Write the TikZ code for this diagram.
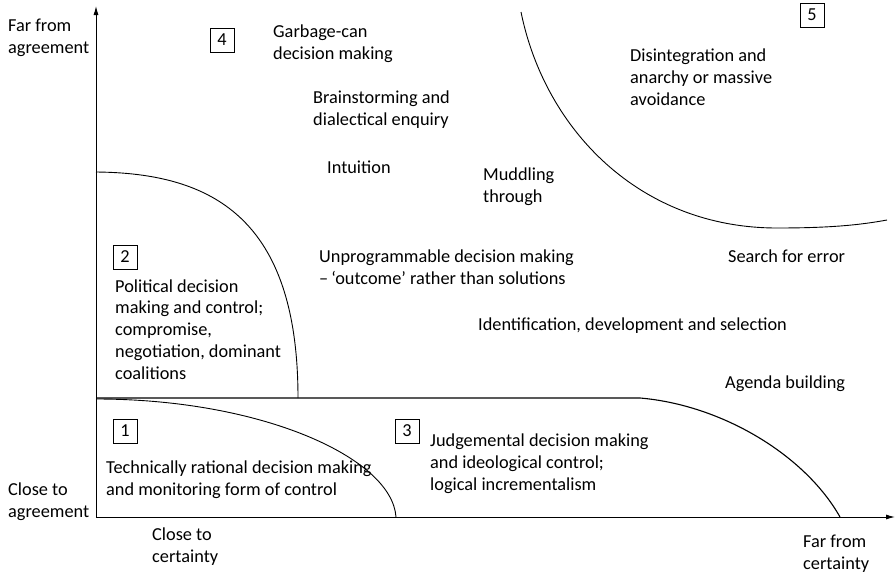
\documentclass[tikz,border=0pt]{standalone}
\usepackage{fontspec}
\setmainfont{Carlito}
\usetikzlibrary{arrows.meta}
\begin{document}
\begin{tikzpicture}[x=1pt,y=-1pt,
  % labels are placed by the baseline of their last line
  lbl/.style={anchor=base west, align=left, inner sep=0pt,
    font=\fontsize{18.3}{21.7}\selectfont},
  numbox/.style={draw, line width=0.6pt, minimum width=24pt, minimum height=24pt,
    inner sep=0pt, font=\fontsize{18.3}{20}\selectfont},
  axis/.style={line width=1pt, -{Latex[length=9pt,width=5pt]}},
  boundary/.style={line width=0.9pt}]
\useasboundingbox (0,0) rectangle (895,576);

% axes
\coordinate (O) at (96,517);
\coordinate (ytop) at (96,6);
\coordinate (xend) at (895,517);
\draw[axis] (O) -- (ytop);
\draw[axis] (O) -- (xend);

% region boundaries
\coordinate (b1s) at (96,399);
\coordinate (b1e) at (396,517);
\draw[boundary] (b1s) .. controls (262,399) and (392,458) .. (b1e);

\coordinate (b2s) at (96,172);
\coordinate (b2e) at (298,398);
\draw[boundary] (b2s) .. controls (212,173) and (298,218) .. (b2e);

\coordinate (b3s) at (96,398);
\coordinate (b3m) at (640,398);
\coordinate (b3e) at (840,517);
\draw[boundary, line width=1.1pt] (b3s) -- (b3m) .. controls (722,405) and (805,455) .. (b3e);

\coordinate (b5s) at (521,12);
\coordinate (b5m) at (777,228);
\coordinate (b5e) at (887,220);
\draw[boundary] (b5s) .. controls (545,130) and (640,228) .. (b5m)
  .. controls (830,228) and (860,225) .. (b5e);

% axis labels
\node[lbl] (farA) at (8,53) {Far from\\agreement};
\node[lbl] (closeA) at (8,517) {Close to\\agreement};
\node[lbl] (closeC) at (152,562) {Close to\\certainty};
\node[lbl] (farC) at (803,569) {Far from\\certainty};

% region 1
\node[numbox] (n1) at (125,431) {1};
\node[lbl] (t1) at (106,495) {Technically rational decision making\\and monitoring form of control};

% region 2
\node[numbox] (n2) at (125,257) {2};
\node[lbl] (t2) at (115,379) {Political decision\\making and control;\\compromise,\\negotiation, dominant\\coalitions};

% region 3
\node[numbox] (n3) at (407,431) {3};
\node[lbl] (t3) at (430,490) {Judgemental decision making\\and ideological control;\\logical incrementalism};

% region 4
\node[numbox] (n4) at (222,40) {4};
\node[lbl] (t4) at (273,59) {Garbage-can\\decision making};
\node[lbl] (brain) at (313,125) {Brainstorming and\\dialectical enquiry};
\node[lbl] (intu) at (327,173) {Intuition};
\node[lbl] (mudd) at (483,202) {Muddling\\through};
\node[lbl] (unprog) at (319,284) {Unprogrammable decision making\\–\,‘outcome’ rather than solutions};
\node[lbl] (search) at (728,262) {Search for error};
\node[lbl] (ident) at (478,330) {Identification, development and selection};
\node[lbl] (agenda) at (725,388) {Agenda building};

% region 5
\node[numbox] (n5) at (812,15) {5};
\node[lbl] (t5) at (630,105) {Disintegration and\\anarchy or massive\\avoidance};
\end{tikzpicture}
\end{document}
